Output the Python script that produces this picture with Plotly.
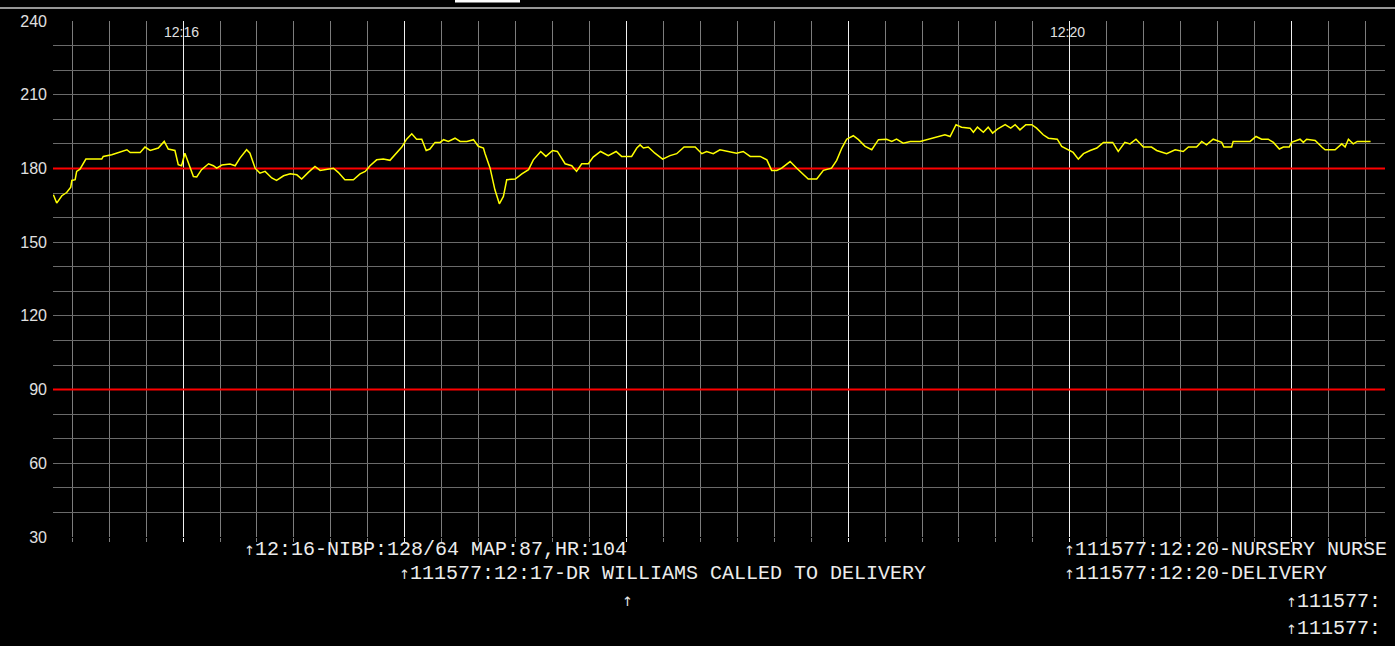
import plotly.graph_objects as go

# time in seconds after 12:15:00, value in mmHg-like units
times = [24.9, 25.8, 27.2, 28.5, 29.6, 29.9, 30.8, 31.2, 32.1, 33.7, 38.0, 38.4, 40.7, 43.0, 44.8, 45.7, 48.4,
         49.7, 51.1, 53.3, 54.9, 56.0, 57.8, 58.7, 59.6, 60.5, 61.4, 62.8, 63.7, 65.0, 66.9, 68.2, 69.1, 70.5,
         72.7, 74.1, 75.4, 77.2, 78.1, 79.5, 80.8, 82.2, 84.0, 85.3, 87.2, 89.0, 90.8, 92.1, 93.9, 95.7, 97.1,
         98.9, 100.7, 102.0, 103.8, 106.1, 107.9, 109.3, 110.6, 112.4, 114.2, 116.0, 117.4, 119.2, 120.5,
         121.9, 123.2, 124.6, 125.8, 126.8, 128.2, 129.6, 130.5, 131.8, 133.6, 135.0, 136.8, 138.6, 139.9,
         141.3,
         141.7, 143.1, 144.4, 145.6, 146.7, 147.6, 149.9, 151.7, 153.5, 154.8, 156.8, 158.2, 160.0, 161.3,
         163.4, 165.2, 166.5, 167.9, 169.7, 171.0, 173.0, 175.1, 177.2, 178.7, 181.4, 182.8, 183.7, 184.6,
         185.9, 187.7, 189.8, 191.8, 193.6, 195.6, 198.6, 200.4, 201.7, 203.5, 205.3, 207.6, 209.8, 211.6,
         213.5, 216.2, 218.0, 219.3, 220.7, 222.0, 224.3, 226.1, 227.9, 229.2, 231.5, 233.3, 235.5, 236.9,
         238.3, 239.6, 241.4, 242.8, 244.6, 246.4, 248.2, 250.4, 251.8, 253.1, 254.9, 256.8, 259.5, 261.3,
         263.5, 266.2, 267.6, 269.2, 270.7, 273.0, 273.9, 275.0, 276.6, 277.9, 279.1, 280.4, 282.5, 284.0,
         285.2, 286.5, 288.1, 289.7, 291.0, 292.8, 294.2, 296.6, 297.8, 299.6, 300.9, 302.3, 303.7, 305.5,
         307.3, 309.1, 311.6, 313.1, 314.9, 316.3, 317.9, 319.9, 322.1, 323.5, 326.2, 328.5, 330.7, 332.1,
         334.3, 335.7, 337.0, 338.8, 341.1, 341.7, 343.8, 344.2, 348.8, 350.4, 351.9, 353.7, 355.1, 356.7,
         357.8, 359.4, 360.0, 362.3, 363.2, 364.1, 366.4, 368.2, 369.1, 371.8, 373.6, 374.5, 375.4, 376.7,
         377.8, 381.4]

values = [169.3, 165.9, 168.9, 170.2, 172.4, 175.1, 175.4, 178.8, 179.7, 183.8, 183.8, 184.9, 185.6, 186.9,
          187.6, 186.5, 186.5, 188.7, 187.3, 188.3, 191.0, 187.9, 187.3, 181.5, 181.1, 186.2, 182.8, 176.7,
          176.5, 179.5, 181.9, 181.1, 180.1, 181.4, 181.8, 181.1, 184.2, 187.6, 186.2, 180.1, 178.1, 178.8,
          176.1, 175.1, 177.0, 177.8, 177.4, 175.7, 178.4, 180.8, 179.2, 179.7, 180.1, 178.4, 175.4, 175.4,
          177.8, 178.8, 181.1, 183.5, 183.8, 183.3, 185.6, 188.7, 191.9, 194.1, 191.9, 191.9, 187.3, 187.9,
          190.6, 190.6, 191.7, 191.0, 192.3, 191.0, 191.0, 191.7, 189.0, 188.3,
          186.2, 180.1, 171.3, 165.6, 168.6, 175.4, 175.7, 177.8, 179.5, 183.5, 186.9, 184.9, 187.3, 186.9,
          181.9, 181.1, 178.8, 181.9, 181.9, 184.6, 186.9, 185.2, 186.9, 184.9, 184.9, 188.3, 189.6, 188.3,
          188.7, 186.2, 183.8, 185.2, 186.0, 188.7, 188.7, 186.0, 186.9, 186.0, 187.6, 186.9, 186.2, 186.9,
          184.9, 184.9, 183.5, 179.2, 179.2, 180.1, 182.8, 180.1, 177.4, 175.7, 175.7, 179.2, 180.1, 183.3,
          188.3, 191.9, 193.3, 191.7, 189.0, 187.6, 191.7, 191.9, 191.0, 191.9, 190.3, 191.0, 191.0, 191.7,
          192.8, 193.7, 193.0, 197.8, 196.8, 196.4, 194.7, 196.8, 194.7, 196.8, 194.4, 196.0, 197.8, 196.4,
          197.8, 195.7, 197.8, 197.8, 196.4, 193.7, 192.3, 191.9, 189.0, 187.6, 186.5, 183.8, 186.0, 187.3,
          188.3, 190.6, 190.6, 186.9, 190.6, 190.0, 191.9, 188.7, 188.7, 187.3, 186.0, 187.6, 186.9, 188.7,
          188.7, 191.0, 189.6, 191.9, 190.6, 188.7, 188.7, 191.0, 191.0, 193.0, 191.9, 191.9, 190.6, 187.9,
          188.7, 188.7, 190.6, 191.9, 190.6, 191.9, 191.4, 188.7, 187.6, 187.6, 190.0, 188.7, 191.9, 190.0,
          191.0, 191.0]

thresholds = [180, 90]

clock_ticks = [60, 300]
clock_labels = ["12:16", "12:20"]

event_times = [77.6, 119.5, 179.9, 299.5, 299.5, 359.6, 359.6]
event_rows = [0, 1, 2, 0, 1, 2, 3]
event_texts = ["12:16-NIBP:128/64 MAP:87,HR:104",
               "111577:12:17-DR WILLIAMS CALLED TO DELIVERY",
               "",
               "111577:12:20-NURSERY NURSE",
               "111577:12:20-DELIVERY",
               "111577:",
               "111577:"]

x_range = [24.8, 385.3]
y_range = [30, 240]

fig = go.Figure()
for th in thresholds:
    fig.add_trace(go.Scatter(x=x_range, y=[th, th], mode="lines",
                             line=dict(color="#ff0000", width=2), hoverinfo="skip"))
fig.add_trace(go.Scatter(x=times, y=values, mode="lines",
                         line=dict(color="#ffff00", width=1.5)))

arrow = '<span style="font-family:DejaVu Sans;font-size:13px">\u2191</span>'
row_shift = [-12, -36, -64, -91]
for t, r, txt in zip(event_times, event_rows, event_texts):
    fig.add_annotation(x=t, xref="x", y=0, yref="paper", text=arrow + txt, showarrow=False,
                       xanchor="left", yanchor="middle", xshift=-6, yshift=row_shift[r],
                       font=dict(family="Liberation Mono, DejaVu Sans Mono, monospace", size=20,
                                 color="#ececec"))

for t, lab in zip(clock_ticks, clock_labels):
    fig.add_annotation(x=t, xref="x", y=1, yref="paper", text=lab, showarrow=False,
                       xanchor="center", yanchor="top", xshift=-2, yshift=-1,
                       font=dict(family="Liberation Sans, Arial, sans-serif", size=14, color="#e0e0e0"))

# frame decorations above the plot
fig.add_shape(type="line", xref="paper", yref="paper", x0=-0.0398, x1=1.0075, y0=1.0252, y1=1.0252,
              line=dict(color="#c8c8c8", width=1.5))
fig.add_shape(type="rect", xref="paper", yref="paper", x0=0.3018, x1=0.3506, y0=1.036, y1=1.045,
              line=dict(width=0), fillcolor="#ffffff")

fig.update_layout(
    width=1395, height=646,
    paper_bgcolor="#000000", plot_bgcolor="#000000",
    margin=dict(l=53, r=10, t=21, b=109),
    showlegend=False,
    xaxis=dict(range=x_range, tick0=0, dtick=60, showgrid=True, gridcolor="#f0f0f0", gridwidth=1,
               showticklabels=False, ticks="outside", ticklen=4, tickcolor="#f0f0f0",
               zeroline=False, showline=False,
               minor=dict(tick0=0, dtick=10, showgrid=True, gridcolor="#7c7c7c", gridwidth=1,
                          ticks="outside", ticklen=4, tickcolor="#7c7c7c")),
    yaxis=dict(range=y_range, tick0=0, dtick=30, showgrid=True, gridcolor="#6a6a6a", gridwidth=1,
               zeroline=False, showline=False, ticks="", ticklabelstandoff=5,
               tickfont=dict(family="Liberation Sans, Arial, sans-serif", size=16, color="#e0e0e0"),
               minor=dict(dtick=10, showgrid=True, gridcolor="#6a6a6a", gridwidth=1)),
)

fig.write_html("out.html", config={"displayModeBar": False},
               post_script="document.body.style.margin='0px';document.body.style.background='#000';")
